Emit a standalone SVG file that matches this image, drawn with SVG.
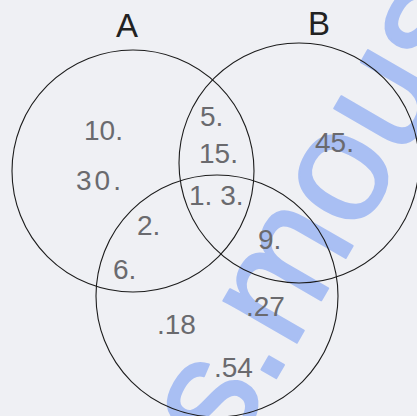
<svg xmlns="http://www.w3.org/2000/svg" width="417" height="416" viewBox="0 0 417 416">
<style>
.c{fill:none;stroke:#1c1c1c;stroke-width:1.1}
.lbl{font-family:"Liberation Sans",Arial,sans-serif;font-size:33px;fill:#222;text-anchor:middle}
.n{font-family:"Liberation Sans",Arial,sans-serif;font-size:28px;fill:#6a6a6e}
.wm{font-family:"Liberation Sans",Arial,sans-serif;font-size:160px;fill:#a9bff3;stroke:#a9bff3;stroke-width:2;stroke-linejoin:round}
</style>
<rect width="417" height="416" fill="#eff0f4"/>
<text class="wm" transform="translate(229,460) rotate(-60)">s.mouse</text>
<g id="connectors"></g>
<g id="A"><circle class="c" cx="133" cy="171" r="121"/><text class="lbl" x="127" y="37">A</text></g>
<g id="B"><circle class="c" cx="299" cy="163" r="120"/><text class="lbl" x="319" y="35">B</text></g>
<g id="C"><circle class="c" cx="217" cy="296" r="121"/></g>
<g id="values">
<text class="n" x="84" y="140">10.</text>
<text class="n" x="76" y="190" letter-spacing="3">30.</text>
<text class="n" x="200" y="126">5.</text>
<text class="n" x="199" y="163">15.</text>
<text class="n" x="189" y="205">1. 3.</text>
<text class="n" x="137" y="235">2.</text>
<text class="n" x="113" y="279">6.</text>
<text class="n" x="315" y="152">45.</text>
<text class="n" x="258" y="249">9.</text>
<text class="n" x="157" y="334">.18</text>
<text class="n" x="246" y="316">.27</text>
<text class="n" x="214" y="377">.54</text>
</g>
</svg>
